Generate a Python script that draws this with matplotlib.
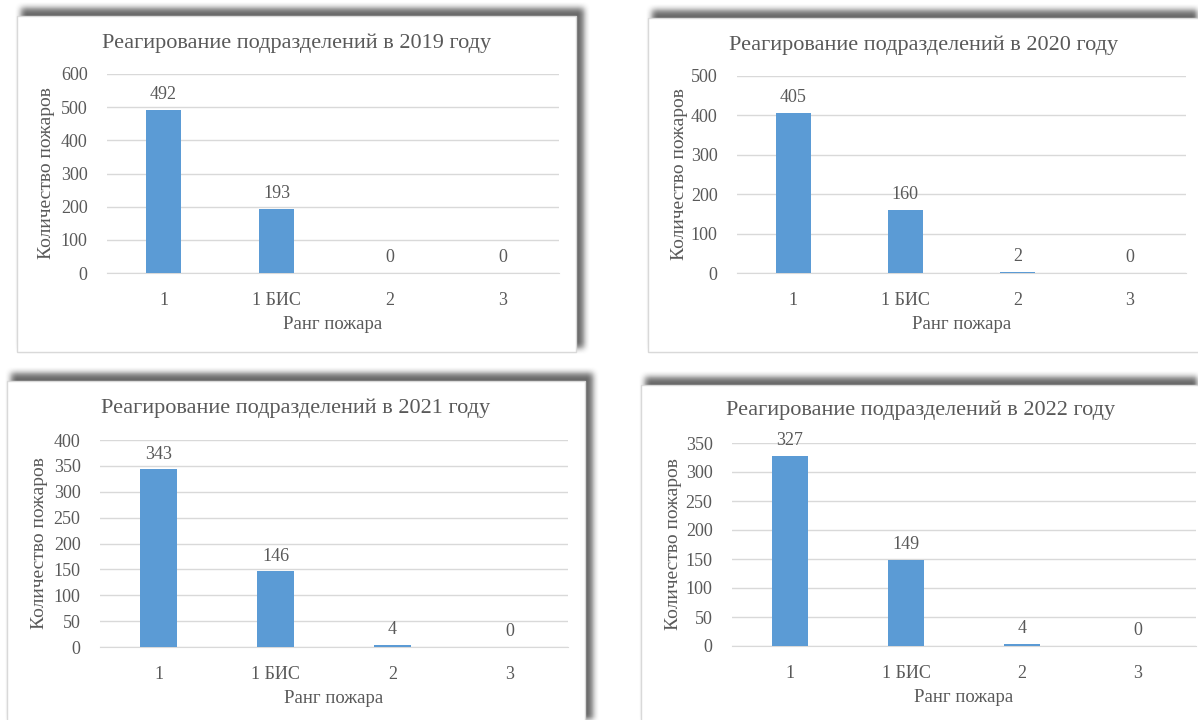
import numpy as np
import matplotlib
matplotlib.use("Agg")
import matplotlib.pyplot as plt
from matplotlib.patches import Rectangle

plt.rcParams["font.family"] = ["Liberation Serif", "DejaVu Serif"]

W, H = 1198, 720

categories = ["1", "1 БИС", "2", "3"]
years = [2019, 2020, 2021, 2022]
fires_2019 = [492, 193, 0, 0]
fires_2020 = [405, 160, 2, 0]
fires_2021 = [343, 146, 4, 0]
fires_2022 = [327, 149, 4, 0]
y_max = [600, 500, 400, 350]
y_step = [100, 100, 50, 50]

title_tpl = "Реагирование подразделений в {} году"
x_label = "Ранг пожара"
y_label = "Количество пожаров"

BAR = "#5B9BD5"
TXT = "#595959"
GRID = "#D9D9D9"

# panel layout in pixels: card box (l, t, r, b), plot area (l, t, r, b)
cards = [(17, 16, 576, 352), (648, 18, 1215, 352), (7, 381, 585, 735), (641, 385, 1215, 735)]
plots = [(107, 74, 559, 273), (737, 76, 1186, 273), (100, 440, 568, 647), (732, 443, 1196, 646)]
title_y = [43, 45, 408, 410]
ylabel_x = [47, 680, 40, 673]


def fx(x):
    return x / W


def fy(y):
    return 1 - y / H


fig = plt.figure(figsize=(W / 100, H / 100), dpi=100)

# soft drop shadows behind the cards
bg = fig.add_axes([0, 0, 1, 1])
bg.set_xlim(0, W)
bg.set_ylim(H, 0)
bg.axis("off")
shadow = np.zeros((H, W))
for (l, t, r, b) in cards:
    shadow[max(t - 8, 0):min(b - 4, H), max(l + 4, 0):min(r + 8, W)] = 1.0
k = np.ones(7) / 7
for _ in range(2):
    shadow = np.apply_along_axis(lambda v: np.convolve(v, k, mode="same"), 0, shadow)
    shadow = np.apply_along_axis(lambda v: np.convolve(v, k, mode="same"), 1, shadow)
rgba = np.zeros((H, W, 4))
rgba[..., :3] = 0.35
rgba[..., 3] = shadow * 0.9
bg.imshow(rgba, extent=(0, W, H, 0), interpolation="bilinear", zorder=0)
for (l, t, r, b) in cards:
    bg.add_patch(Rectangle((l, t), r - l, b - t, facecolor="white",
                           edgecolor="#D9D9D9", linewidth=1.0, zorder=1))

series = [fires_2019, fires_2020, fires_2021, fires_2022]
xpos = np.arange(len(categories))

for i, vals in enumerate(series):
    l, t, r, b = plots[i]
    ax = fig.add_axes([fx(l), fy(b), fx(r) - fx(l), fy(t) - fy(b)])
    ax.set_facecolor("none")
    ax.bar(xpos, vals, width=0.31, color=BAR, zorder=3)
    ax.set_xlim(-0.5, len(categories) - 0.5)
    ax.set_ylim(0, y_max[i])
    ax.set_yticks(np.arange(0, y_max[i] + 1, y_step[i]))
    ax.set_xticks(xpos)
    ax.set_xticklabels(categories)
    ax.yaxis.grid(True, color=GRID, linewidth=1.0, zorder=0)
    ax.set_axisbelow(True)
    for s in ["top", "right", "left"]:
        ax.spines[s].set_visible(False)
    ax.spines["bottom"].set_color(GRID)
    ax.tick_params(axis="both", length=0, colors=TXT, labelsize=13)
    ax.tick_params(axis="y", pad=14)
    ax.tick_params(axis="x", pad=14)
    ax.set_xlabel(x_label, fontsize=13.5, color=TXT, labelpad=5)
    for xv, v in zip(xpos, vals):
        ax.annotate(str(v), (xv, v), xytext=(0, 5), textcoords="offset points",
                    ha="center", va="bottom", fontsize=13, color=TXT)
    l0, t0, r0, b0 = cards[i]
    fig.text(fx((l0 + min(r0, 1200)) / 2), fy(title_y[i]), title_tpl.format(years[i]),
             ha="center", va="center", fontsize=16, color=TXT)
    fig.text(fx(ylabel_x[i]), fy((t + b) / 2), y_label, rotation=90,
             ha="center", va="center", fontsize=14, color=TXT)

fig.savefig("out.png", dpi=100)
